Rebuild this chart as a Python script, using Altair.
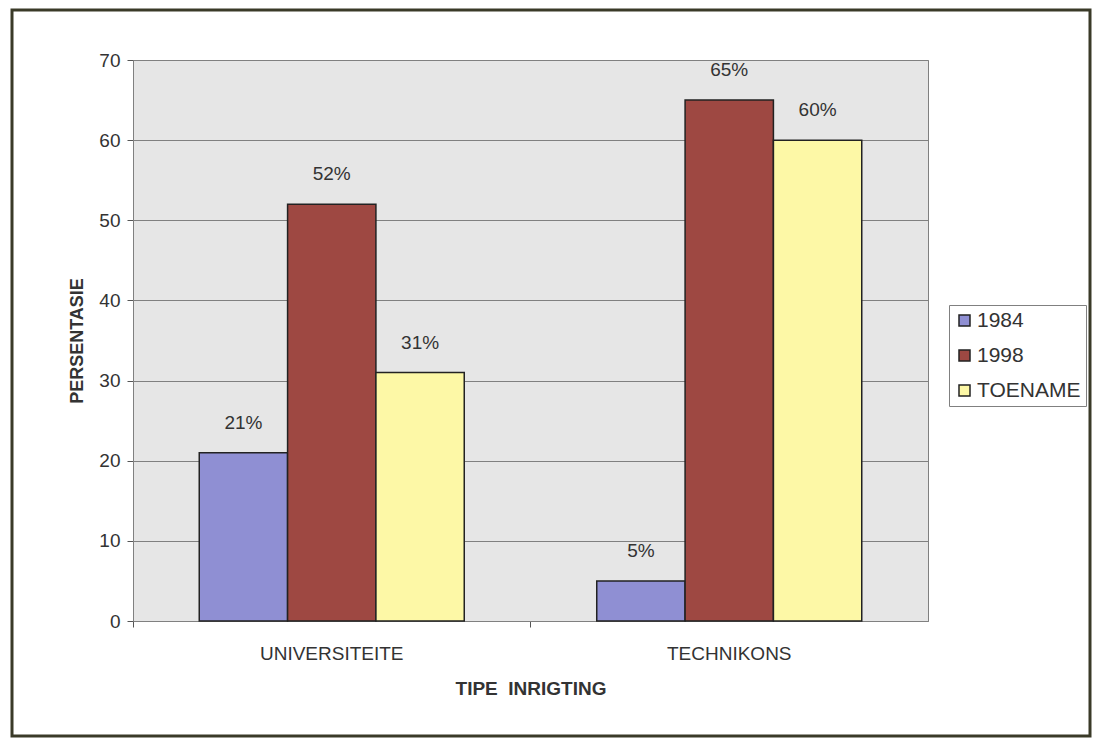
import altair as alt
import pandas as pd

categories = ["UNIVERSITEITE", "TECHNIKONS"]
series = ["1984", "1998", "TOENAME"]
values_1984 = [21, 5]
values_1998 = [52, 65]
values_toename = [31, 60]
colors = ["#8f8fd3", "#9e4842", "#fdf8a6"]
y_ticks = [0, 10, 20, 30, 40, 50, 60, 70]

rows = []
for s, vals in zip(series, [values_1984, values_1998, values_toename]):
    for c, v in zip(categories, vals):
        rows.append({"inrigting": c, "reeks": s, "waarde": v})
df = pd.DataFrame(rows)

FONT = "Liberation Sans"
W, H = 795, 561

x_enc = alt.X(
    "inrigting:N",
    sort=categories,
    scale=alt.Scale(paddingInner=0, paddingOuter=0),
    axis=alt.Axis(
        title="TIPE\u00a0 INRIGTING",
        labelAngle=0,
        bandPosition=0,
        tickSize=6,
        tickColor="#555555",
        domainColor="#808080",
        labelFontSize=19,
        labelColor="#333333",
        labelFont=FONT,
        labelPadding=17,
        titleFont=FONT,
        titleFontSize=19,
        titleFontWeight="bold",
        titleColor="#333333",
        titlePadding=16,
        grid=False,
    ),
)
xoff_enc = alt.XOffset(
    "reeks:N", sort=series, scale=alt.Scale(paddingInner=0, paddingOuter=0.75)
)
y_enc = alt.Y(
    "waarde:Q",
    scale=alt.Scale(domain=[0, 70], nice=False),
    axis=alt.Axis(
        values=y_ticks,
        title="PERSENTASIE",
        tickSize=6,
        tickColor="#555555",
        domainColor="#808080",
        gridColor="#808080",
        gridWidth=1,
        labelFontSize=19,
        labelColor="#333333",
        labelFont=FONT,
        labelPadding=7,
        titleFont=FONT,
        titleFontSize=18,
        titleFontWeight="bold",
        titleColor="#333333",
        titlePadding=12,
    ),
)

base = alt.Chart(df)

bars = base.mark_bar(stroke="#222222", strokeWidth=1.5).encode(
    x=x_enc,
    xOffset=xoff_enc,
    y=y_enc,
    color=alt.Color(
        "reeks:N",
        sort=series,
        scale=alt.Scale(domain=series, range=colors),
        legend=alt.Legend(
            title=None,
            orient="none",
            legendX=816,
            legendY=245,
            padding=5,
            strokeColor="#808080",
            fillColor="#ffffff",
            labelFont=FONT,
            labelFontSize=21,
            labelColor="#333333",
            symbolType="square",
            symbolSize=121,
            symbolStrokeColor="#222222",
            symbolStrokeWidth=1.5,
            symbolOpacity=1,
            rowPadding=13,
            labelOffset=2,
        ),
    ),
)

labels = base.transform_calculate(lbl="datum.waarde + '%'").mark_text(
    dy=-30, fontSize=19, font=FONT, color="#333333"
).encode(
    x=alt.X("inrigting:N", sort=categories),
    xOffset=alt.XOffset("reeks:N", sort=series),
    y="waarde:Q",
    text="lbl:N",
)

frame = alt.Chart(pd.DataFrame({"a": [0]})).mark_rect(
    fillOpacity=0, stroke="#3a3a28", strokeWidth=3
).encode(
    x=alt.value(-121), x2=alt.value(957), y=alt.value(-50), y2=alt.value(676)
)

chart = (
    alt.layer(bars, labels, frame)
    .properties(
        width=W,
        height=H,
        padding={"left": 125, "top": 52, "right": 165, "bottom": 118},
        autosize=alt.AutoSizeParams(type="none"),
        background="#ffffff",
    )
    .configure_view(fill="#e6e6e6", stroke="#808080", strokeWidth=1)
)

chart.save("out.html", embed_options={"renderer": "svg", "actions": False})
